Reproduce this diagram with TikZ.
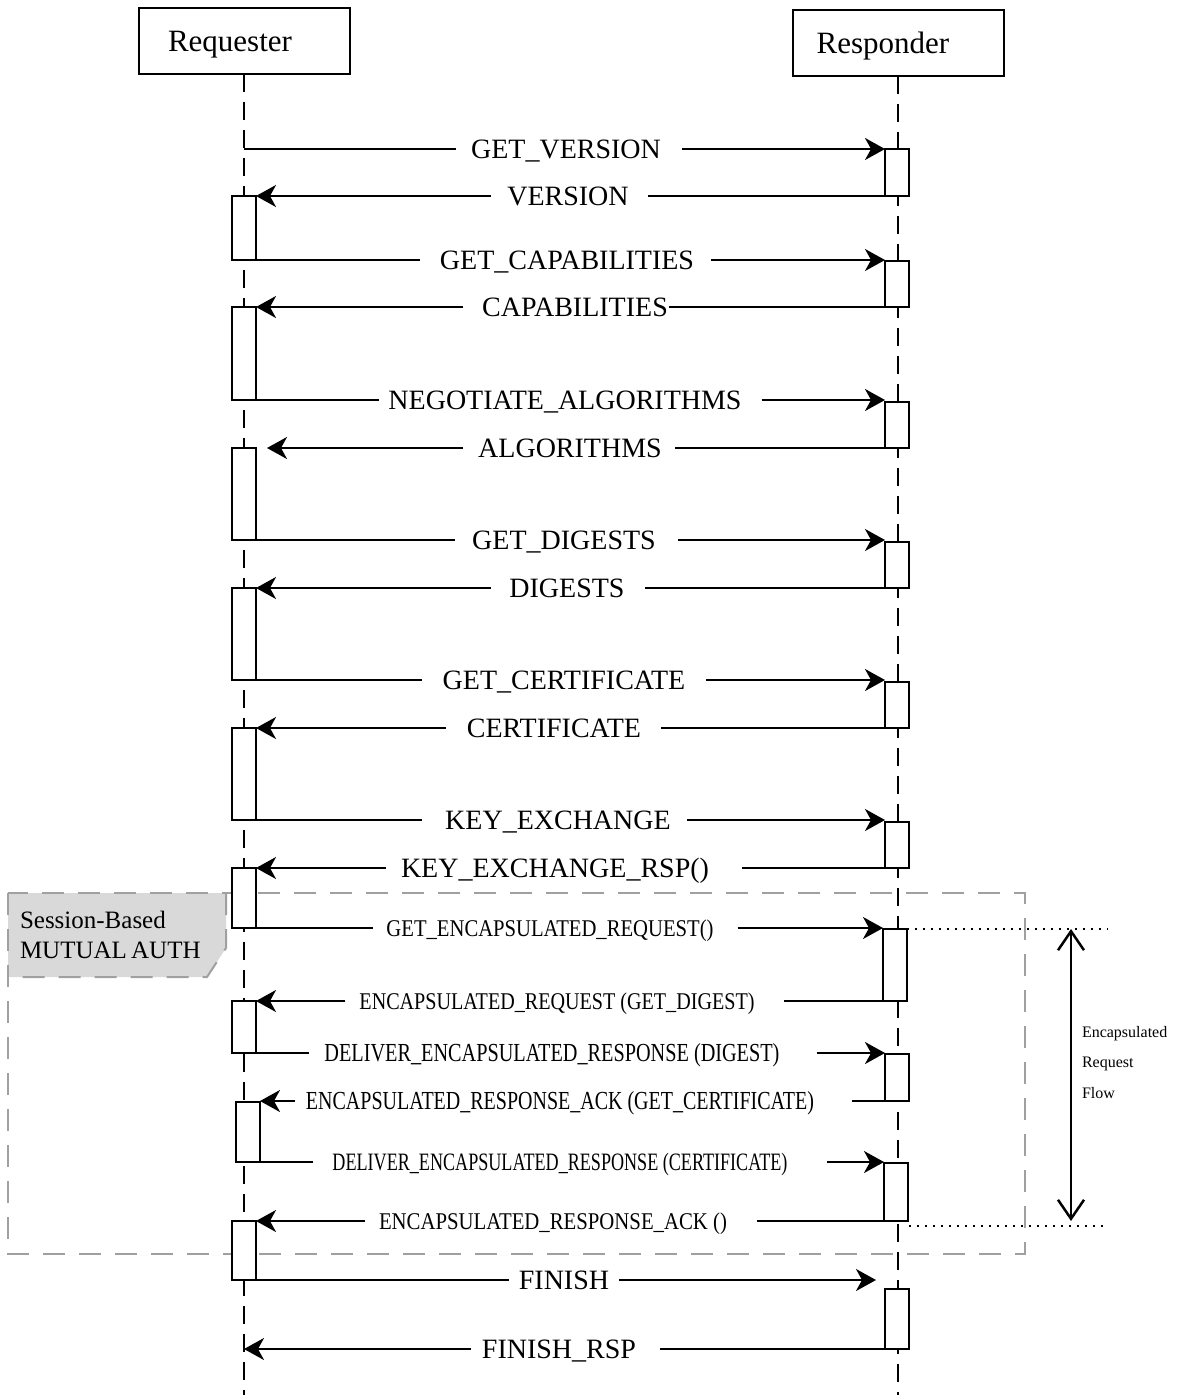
\documentclass[tikz,border=0pt]{standalone}
\usepackage{fontspec}
\usepackage{graphicx}
\setmainfont{Liberation Serif}
\usetikzlibrary{arrows.meta}
\definecolor{boxgray}{RGB}{160,160,160}
\definecolor{labelgray}{RGB}{217,217,217}
\newcommand\sq[3]{\fontsize{#1}{#1}\selectfont\resizebox{#2pt}{\height}{#3}}
\tikzset{
 actor/.style={draw, line width=2pt, minimum width=211pt, minimum height=66pt, inner sep=0pt, outer sep=0pt, font=\fontsize{31}{31}\selectfont, text height=20.5pt, text depth=0pt},
 act/.style={draw, fill=white, line width=2pt, minimum width=24pt, inner sep=0pt, outer sep=0pt, anchor=north west},
 life/.style={line width=2.5pt, dash pattern=on 18pt off 10pt},
 msg/.style={line width=2pt},
 tip/.style={-{Stealth[length=20pt,width=22pt,inset=6pt]}},
 big/.style={inner sep=0pt, outer sep=0pt, font=\fontsize{28}{28}\selectfont, text height=18.5pt, text depth=0pt},
 small/.style={inner sep=0pt, outer sep=0pt, text height=16.5pt, text depth=0pt},
 grayd/.style={draw=boxgray, line width=2pt, dash pattern=on 22pt off 14pt},
 dotl/.style={line width=2pt, dash pattern=on 2pt off 6pt},
 dbl/.style={line width=2.5pt, {Straight Barb[length=19pt,width=26pt]}-{Straight Barb[length=19pt,width=26pt]}},
 note/.style={inner sep=0pt, outer sep=0pt, anchor=base west, font=\fontsize{25}{25}\selectfont},
 flow/.style={inner sep=0pt, outer sep=0pt, anchor=base west, font=\fontsize{16}{16}\selectfont}
}
\begin{document}
\begin{tikzpicture}[x=1pt,y=-1pt]
\useasboundingbox (0,0) rectangle (1186,1395);
\coordinate (bot) at (0,1395);
% session box
\fill[labelgray] (8,893) -- (226,893) -- (226,948) -- (207,977) -- (8,977) -- cycle;
\draw[grayd] (8,893) rectangle (1025,1254);
\draw[grayd] (226,893) -- (226,948) -- (207,977) -- (8,977);
\node[note] (sb1) at (20,928) {Session-Based};
\node[note] (sb2) at (20,958) {MUTUAL\kern-2pt\ AUTH};
% actors
\node[actor] (req) at (244,41) {\kern-28pt Requester};
\node[actor] (resp) at (898,43) {\kern-30pt Responder};
\draw[life] (req.south) -- (req.south |- bot);
\draw[life] (resp.south) -- (resp.south |- bot);
% activation boxes
\node[act, minimum height=47pt] (R1) at (885,149) {};
\node[act, minimum height=64pt] (Q1) at (232,196) {};
\node[act, minimum height=46pt] (R2) at (885,261) {};
\node[act, minimum height=93pt] (Q2) at (232,307) {};
\node[act, minimum height=46pt] (R3) at (885,402) {};
\node[act, minimum height=92pt] (Q3) at (232,448) {};
\node[act, minimum height=46pt] (R4) at (885,542) {};
\node[act, minimum height=92pt] (Q4) at (232,588) {};
\node[act, minimum height=46pt] (R5) at (885,682) {};
\node[act, minimum height=92pt] (Q5) at (232,728) {};
\node[act, minimum height=46pt] (R6) at (885,822) {};
\node[act, minimum height=60pt] (Q6) at (232,868) {};
\node[act, minimum height=72pt] (R7) at (883,929) {};
\node[act, minimum height=52pt] (Q7) at (232,1001) {};
\node[act, minimum height=47pt] (R8) at (885,1054) {};
\node[act, minimum height=60pt] (Q8) at (236,1102) {};
\node[act, minimum height=58pt] (R9) at (884,1163) {};
\node[act, minimum height=59pt] (Q9) at (232,1221) {};
\node[act, minimum height=60pt] (R10) at (885,1289) {};
% labels
\node[big] (m1) at (566,149) {GET\_VERSION};
\node[big] (m2) at (568,196) {VERSION};
\node[big] (m3) at (567,260) {GET\_CAPABILITIES};
\node[big] (m4) at (575,307) {CAPABILITIES};
\node[big] (m5) at (565,400) {NEGOTIATE\_ALGORITHMS};
\node[big] (m6) at (570,448) {ALGORITHMS};
\node[big] (m7) at (564,540) {GET\_DIGESTS};
\node[big] (m8) at (567,588) {DIGESTS};
\node[big] (m9) at (564,680) {GET\_CERTIFICATE};
\node[big] (m10) at (554,728) {CERTIFICATE};
\node[big] (m11) at (558,820) {KEY\_EXCHANGE};
\node[big] (m12) at (555,868) {KEY\_EXCHANGE\_RSP()};
\node[small] (m13) at (550,928) {\sq{24}{327}{GET\_ENCAPSULATED\_REQUEST()}};
\node[small] (m14) at (557,1001) {\sq{24}{395}{ENCAPSULATED\_REQUEST (GET\_DIGEST)}};
\node[small] (m15) at (552,1053) {\sq{26}{455}{DELIVER\_ENCAPSULATED\_RESPONSE (DIGEST)}};
\node[small] (m16) at (560,1101) {\sq{26}{508}{ENCAPSULATED\_RESPONSE\_ACK (GET\_CERTIFICATE)}};
\node[small] (m17) at (560,1162) {\sq{25}{455}{DELIVER\_ENCAPSULATED\_RESPONSE (CERTIFICATE)}};
\node[small] (m18) at (553,1221) {\sq{24}{348}{ENCAPSULATED\_RESPONSE\_ACK ()}};
\node[big] (m19) at (564,1280) {FINISH};
\node[big] (m20) at (559,1349) {FINISH\_RSP};
% messages: requester -> responder
\draw[msg] (req.south |- R1.north west) -- ([xshift=-15pt]m1.west);
\draw[msg,tip] ([xshift=21pt]m1.east) -- (R1.north west);
\draw[msg] (Q1.south east) -- ([xshift=-20pt]m3.west);
\draw[msg,tip] ([xshift=17pt]m3.east) -- (Q1.south east -| R2.west);
\draw[msg] (Q2.south east) -- ([xshift=-9pt]m5.west);
\draw[msg,tip] ([xshift=20pt]m5.east) -- (Q2.south east -| R3.west);
\draw[msg] (Q3.south east) -- ([xshift=-17pt]m7.west);
\draw[msg,tip] ([xshift=22pt]m7.east) -- (Q3.south east -| R4.west);
\draw[msg] (Q4.south east) -- ([xshift=-21pt]m9.west);
\draw[msg,tip] ([xshift=21pt]m9.east) -- (Q4.south east -| R5.west);
\draw[msg] (Q5.south east) -- ([xshift=-23pt]m11.west);
\draw[msg,tip] ([xshift=16pt]m11.east) -- (Q5.south east -| R6.west);
\draw[msg] (Q6.south east) -- ([xshift=-13pt]m13.west);
\draw[msg,tip] ([xshift=24pt]m13.east) -- (Q6.south east -| R7.west);
\draw[msg] (Q7.south east) -- ([xshift=-15pt]m15.west);
\draw[msg,tip] ([xshift=37pt]m15.east) -- (Q7.south east -| R8.west);
\draw[msg] (Q8.south east) -- ([xshift=-19pt]m17.west);
\draw[msg,tip] ([xshift=39pt]m17.east) -- (Q8.south east -| R9.west);
\draw[msg] (Q9.south east) -- ([xshift=-10pt]m19.west);
\draw[msg,tip,shorten >=9pt] ([xshift=10pt]m19.east) -- (Q9.south east -| R10.west);
% messages: responder -> requester
\draw[msg] (R1.south west) -- ([xshift=19pt]m2.east);
\draw[msg,tip] ([xshift=-16pt]m2.west) -- (R1.south west -| Q1.east);
\draw[msg] (R2.south west) -- ([xshift=1pt]m4.east);
\draw[msg,tip] ([xshift=-19pt]m4.west) -- (R2.south west -| Q2.east);
\draw[msg] (R3.south west) -- ([xshift=13pt]m6.east);
\draw[msg,tip,shorten >=11pt] ([xshift=-15pt]m6.west) -- (R3.south west -| Q3.east);
\draw[msg] (R4.south west) -- ([xshift=20pt]m8.east);
\draw[msg,tip] ([xshift=-18pt]m8.west) -- (R4.south west -| Q4.east);
\draw[msg] (R5.south west) -- ([xshift=20pt]m10.east);
\draw[msg,tip] ([xshift=-21pt]m10.west) -- (R5.south west -| Q5.east);
\draw[msg] (R6.south west) -- ([xshift=33pt]m12.east);
\draw[msg,tip] ([xshift=-15pt]m12.west) -- (R6.south west -| Q6.east);
\draw[msg] (R7.south west) -- ([xshift=29pt]m14.east);
\draw[msg,tip] ([xshift=-14pt]m14.west) -- (R7.south west -| Q7.east);
\draw[msg] (R8.south west) -- ([xshift=38pt]m16.east);
\draw[msg,tip] ([xshift=-11pt]m16.west) -- (R8.south west -| Q8.east);
\draw[msg] (R9.south west) -- ([xshift=30pt]m18.east);
\draw[msg,tip] ([xshift=-14pt]m18.west) -- (R9.south west -| Q9.east);
\draw[msg] (R10.south west) -- ([xshift=24pt]m20.east);
\draw[msg,tip] ([xshift=-11pt]m20.west) -- (R10.south west -| req.south);
% encapsulated flow
\coordinate (d1) at (1108,929);
\coordinate (d2a) at (909,1226);
\coordinate (d2) at (1108,1226);
\coordinate (fa) at (1071,929);
\coordinate (fb) at (1071,1221);
\draw[dotl] (R7.north east) -- (d1);
\draw[dotl] (d2a) -- (d2);
\draw[dbl] (fa) -- (fb);
\node[flow] (f1) at (1082,1037) {Encapsulated};
\node[flow] (f2) at (1082,1067) {Request};
\node[flow] (f3) at (1082,1098) {Flow};
\end{tikzpicture}
\end{document}
